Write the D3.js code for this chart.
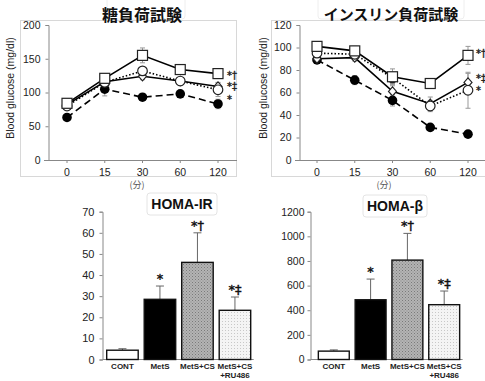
<!DOCTYPE html>
<html><head><meta charset="utf-8">
<script src="https://cdn.jsdelivr.net/npm/d3@7"></script>
<style>body{margin:0;background:#fff}svg{display:block}</style>
</head><body>
<script>
// ---------- data ----------
const timeLabels = ["0","15","30","60","120"];
// Glucose tolerance test (mg/dl)
const gttSquare  = [84,121,155,134,128]; const gttSquareErr  = [3,4,11,4,3];
const gttOpen    = [80,115,132,117,104]; const gttOpenErr    = [3,5,5,4,10];
const gttDiamond = [82,116,124,117,109]; const gttDiamondErr = [3,4,5,5,6];
const gttFilled  = [63,105,93,98,83];    const gttFilledErr  = [3,10,4,5,7];
// Insulin tolerance test (mg/dl)
const ittSquare  = [101,97,74,68,93];    const ittSquareErr  = [2,4,7,4,8];
const ittOpen    = [95,94,73,48,62];     const ittOpenErr    = [2,3,5,5,16];
const ittDiamond = [90,91,61,50,69];     const ittDiamondErr = [2,3,5,6,8];
const ittFilled  = [89,71,53,29,23];     const ittFilledErr  = [3,4,5,2,2];
// HOMA
const groups = ["CONT","MetS","MetS+CS","MetS+CS\n+RU486"];
const homaIR = [4.4,28.5,46,23.3];   const homaIRErr = [0.7,6.3,14,6.3];
const homaB  = [68,485,807,445];     const homaBErr  = [10,168,217,111];
const homaMarks = ["","*","*†","*‡"];
const gttTicks = [0,50,100,150,200];
const ittTicks = [0,20,40,60,80,100,120];
const irTicks = [0,10,20,30,40,50,60,70];
const bTicks = [0,200,400,600,800,1000,1200];

const W=485,H=381;
const svg=d3.select("body").append("svg").attr("width",W).attr("height",H);
svg.append("rect").attr("width",W).attr("height",H).attr("fill","#fff");
const defs=svg.append("defs");
const p1=defs.append("pattern").attr("id","hatch").attr("patternUnits","userSpaceOnUse").attr("width",3).attr("height",3);
p1.append("rect").attr("width",3).attr("height",3).attr("fill","#b4b4b4");
p1.append("rect").attr("width",1).attr("height",1).attr("fill","#7a7a7a");
p1.append("rect").attr("x",1.5).attr("y",1.5).attr("width",1).attr("height",1).attr("fill","#8a8a8a");
const p2=defs.append("pattern").attr("id","dots").attr("patternUnits","userSpaceOnUse").attr("width",3).attr("height",3);
p2.append("rect").attr("width",3).attr("height",3).attr("fill","#f4f4f4");
p2.append("rect").attr("width",1).attr("height",1).attr("fill","#c8c8c8");

const FONT="'Liberation Sans', Arial, sans-serif";
const MARK="'DejaVu Sans', sans-serif";
const CJK="'Noto Sans CJK JP', sans-serif";

function lineChart(o){
  const g=svg.append("g");
  g.append("rect").attr("x",o.frame[0]).attr("y",o.frame[1]).attr("width",o.frame[2]).attr("height",o.frame[3])
    .attr("fill","none").attr("stroke","#d8d8d8").attr("stroke-width",1);
  g.append("rect").attr("x",o.tbox[0]).attr("y",o.tbox[1]).attr("width",o.tbox[2]).attr("height",o.tbox[3]).attr("rx",3)
    .attr("fill","#fff").attr("stroke","#eeeeee");
  g.append("text").attr("x",o.tx).attr("y",o.ty).attr("text-anchor","middle").attr("font-family",CJK)
    .attr("font-weight","bold").attr("font-size",o.tsize).attr("fill","#111").text(o.title);
  const y=d3.scaleLinear().domain(o.ydom).range([160,25]);
  const x=d3.scalePoint().domain(timeLabels).range(o.xr);
  const ya=g.append("g").attr("transform",`translate(${o.ax},0)`)
    .call(d3.axisLeft(y).tickValues(o.ticks).tickSize(3).tickPadding(5));
  ya.select(".domain").attr("stroke","#888");
  ya.selectAll(".tick line").attr("stroke","#888");
  ya.selectAll("text").attr("font-family",FONT).attr("font-size",10.5).attr("fill","#222");
  g.append("line").attr("x1",o.xl[0]).attr("x2",o.xl[1]).attr("y1",160.5).attr("y2",160.5).attr("stroke","#888");
  g.selectAll(".xt").data(timeLabels).enter().append("line").attr("x1",d=>x(d)).attr("x2",d=>x(d))
    .attr("y1",160.5).attr("y2",163).attr("stroke","#888");
  g.selectAll(".xl").data(timeLabels).enter().append("text").attr("x",d=>x(d)).attr("y",176)
    .attr("text-anchor","middle").attr("font-family",FONT).attr("font-size",10.5).attr("fill","#222").text(d=>d);
  g.append("text").attr("x",o.ux).attr("y",187.5).attr("text-anchor","middle").attr("font-family",CJK)
    .attr("font-size",9).attr("fill","#555").text("(分)");
  g.append("text").attr("transform",`translate(${o.lx},88) rotate(-90)`).attr("text-anchor","middle")
    .attr("font-family",FONT).attr("font-size",10.5).attr("fill","#222").text("Blood glucose (mg/dl)");
  const series=o.series;
  series.forEach(s=>{
    s.v.forEach((v,i)=>{
      const cx=x(timeLabels[i]);
      g.append("line").attr("x1",cx).attr("x2",cx).attr("y1",y(v-s.e[i])).attr("y2",y(v+s.e[i])).attr("stroke","#999");
      [v-s.e[i],v+s.e[i]].forEach(b=>g.append("line").attr("x1",cx-2.5).attr("x2",cx+2.5).attr("y1",y(b)).attr("y2",y(b)).attr("stroke","#999"));
    });
  });
  const ln=d3.line().x((d,i)=>x(timeLabels[i])).y(d=>y(d));
  series.forEach(s=>{
    g.append("path").attr("d",ln(s.v)).attr("fill","none").attr("stroke","#000").attr("stroke-width",1.6)
      .attr("stroke-dasharray",s.dash||null);
  });
  series.forEach(s=>{
    s.v.forEach((v,i)=>{
      const cx=x(timeLabels[i]), cy=y(v);
      if(s.m==="square") g.append("rect").attr("x",cx-5).attr("y",cy-5).attr("width",10).attr("height",10).attr("fill","#fff").attr("stroke","#222").attr("stroke-width",1.2);
      else if(s.m==="circle") g.append("circle").attr("cx",cx).attr("cy",cy).attr("r",4.8).attr("fill","#fff").attr("stroke","#222").attr("stroke-width",1.2);
      else if(s.m==="diamond") g.append("path").attr("d",`M${cx},${cy-4.5}L${cx+4},${cy}L${cx},${cy+4.5}L${cx-4},${cy}Z`).attr("fill","#fff").attr("stroke","#222").attr("stroke-width",1.2);
      else g.append("circle").attr("cx",cx).attr("cy",cy).attr("r",4.8).attr("fill","#000");
    });
  });
  o.notes.forEach(n=>{
    g.append("text").attr("x",o.nx).attr("y",y(n.v)+n.dy).attr("font-family",MARK)
      .attr("font-size",10).attr("fill","#222").attr("stroke","#222").attr("stroke-width",0.35).text(n.t);
  });
}

lineChart({title:"糖負荷試験",tx:142,ty:21,tsize:16,tbox:[107,-3,78,22],frame:[20.5,20.5,216,156],
  ydom:[0,200],ticks:gttTicks,xr:[67,218],ax:48.5,xl:[44,237],ux:137,lx:14,nx:227,
  series:[
    {v:gttFilled,e:gttFilledErr,m:"filled",dash:"7,4"},
    {v:gttDiamond,e:gttDiamondErr,m:"diamond"},
    {v:gttOpen,e:gttOpenErr,m:"circle",dash:"1.5,2"},
    {v:gttSquare,e:gttSquareErr,m:"square"}],
  notes:[{v:gttSquare[4],t:"*†",dy:5},{v:gttDiamond[4],t:"*‡",dy:4},{v:gttOpen[4],t:"*",dy:13}]});

lineChart({title:"インスリン負荷試験",tx:391,ty:20,tsize:15,tbox:[318,-3,146,22],frame:[271.5,20.5,220,156],
  ydom:[0,120],ticks:ittTicks,xr:[317,468],ax:299.5,xl:[295,485],ux:384,lx:267,nx:476,
  series:[
    {v:ittFilled,e:ittFilledErr,m:"filled",dash:"7,4"},
    {v:ittDiamond,e:ittDiamondErr,m:"diamond"},
    {v:ittOpen,e:ittOpenErr,m:"circle",dash:"1.5,2"},
    {v:ittSquare,e:ittSquareErr,m:"square"}],
  notes:[{v:ittSquare[4],t:"*†",dy:2},{v:ittDiamond[4],t:"*‡",dy:0},{v:ittOpen[4],t:"*",dy:4}]});

function barChart(o){
  const g=svg.append("g");
  const y=d3.scaleLinear().domain(o.ydom).range([359.5,211.7]);
  const x=d3.scaleBand().domain(groups).range(o.xr).paddingInner(0.16).paddingOuter(0.08);
  g.append("rect").attr("x",o.tbox[0]).attr("y",o.tbox[1]).attr("width",o.tbox[2]).attr("height",o.tbox[3]).attr("rx",3)
    .attr("fill","#fff").attr("stroke","#e4e4e4");
  g.append("text").attr("x",o.tbox[0]+o.tbox[2]/2).attr("y",o.tbox[1]+16).attr("text-anchor","middle")
    .attr("font-family",FONT).attr("font-weight","bold").attr("font-size",14).attr("fill","#111").text(o.title);
  const ya=g.append("g").attr("transform",`translate(${o.ax},0)`)
    .call(d3.axisLeft(y).tickValues(o.ticks).tickFormat(d3.format("d")).tickSize(3).tickPadding(o.tp));
  ya.select(".domain").attr("stroke","#888");
  ya.selectAll(".tick line").attr("stroke","#888");
  ya.selectAll("text").attr("font-family",FONT).attr("font-size",o.fs).attr("fill","#222");
  g.append("line").attr("x1",o.ax).attr("x2",o.xr[1]).attr("y1",359.5).attr("y2",359.5).attr("stroke","#888");
  const fills=["#fff","#000","url(#hatch)","url(#dots)"];
  groups.forEach((k,i)=>{
    const cx=x(k)+x.bandwidth()/2;
    const top=y(o.v[i]+o.e[i]);
    g.append("line").attr("x1",cx).attr("x2",cx).attr("y1",y(o.v[i])).attr("y2",top).attr("stroke","#666").attr("stroke-width",1);
    g.append("line").attr("x1",cx-4).attr("x2",cx+4).attr("y1",top).attr("y2",top).attr("stroke","#666").attr("stroke-width",1);
    g.append("text").attr("x",cx).attr("y",top-3).attr("text-anchor","middle").attr("font-family",MARK)
      .attr("font-size",13).attr("fill","#111").attr("stroke","#111").attr("stroke-width",0.4).text(homaMarks[i]);
  });
  g.selectAll(".bar").data(groups).enter().append("rect")
    .attr("x",d=>x(d)).attr("width",x.bandwidth())
    .attr("y",(d,i)=>y(o.v[i])).attr("height",(d,i)=>359.5-y(o.v[i]))
    .attr("fill",(d,i)=>fills[i]).attr("stroke","#111").attr("stroke-width",1.4);
  groups.forEach(k=>{
    const cx=x(k)+x.bandwidth()/2;
    k.split("\n").forEach((t,j)=>{
      g.append("text").attr("x",cx).attr("y",369+j*9).attr("text-anchor","middle").attr("font-family",FONT)
        .attr("font-weight","bold").attr("font-size",8).attr("fill","#222").text(t);
    });
  });
}

barChart({title:"HOMA-IR",tbox:[147,193,70,22],ydom:[0,70],ticks:irTicks,ax:102.5,xr:[103.7,253.7],v:homaIR,e:homaIRErr,tp:5,fs:11});
barChart({title:"HOMA-β",tbox:[363,195,64,22],ydom:[0,1200],ticks:bTicks,ax:310.5,xr:[315.4,462.6],v:homaB,e:homaBErr,tp:3,fs:10.5});
</script>
</body></html>
